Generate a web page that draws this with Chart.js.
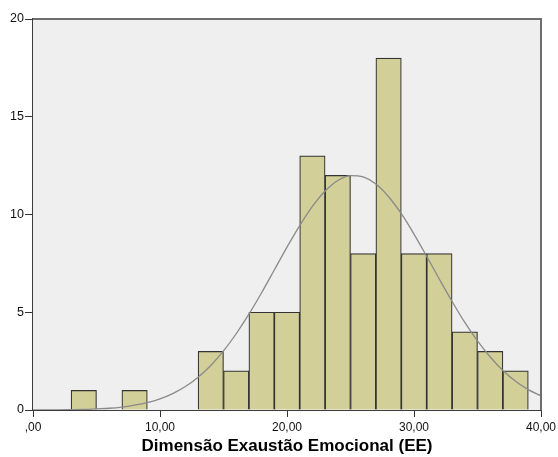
<!DOCTYPE html>
<html>
<head>
<meta charset="utf-8">
<script src="https://cdn.jsdelivr.net/npm/chart.js@4.4.1/dist/chart.umd.min.js"></script>
<style>
  html, body { margin: 0; padding: 0; background: #ffffff; }
  #wrap { width: 558px; height: 457px; position: relative; }
</style>
</head>
<body>
<div id="wrap"><canvas id="hist"></canvas></div>
<script>
// Histogram bins (lower edge, upper edge) and frequencies
const binStart = [3, 5, 7, 9, 11, 13, 15, 17, 19, 21, 23, 25, 27, 29, 31, 33, 35, 37];
const binEnd   = [5, 7, 9, 11, 13, 15, 17, 19, 21, 23, 25, 27, 29, 31, 33, 35, 37, 39];
const counts   = [1, 0, 1, 0, 0, 3, 2, 5, 5, 13, 12, 8, 18, 8, 8, 4, 3, 2];

// Normal curve overlay, sampled along the x axis
const curveX = [0, 1, 2, 3, 4, 5, 6, 7, 8, 9, 10, 11, 12, 13, 14, 15, 16, 17, 18, 19, 20,
                21, 22, 23, 24, 25, 26, 27, 28, 29, 30, 31, 32, 33, 34, 35, 36, 37, 38, 39, 40];
const curveY = [0.00, 0.01, 0.01, 0.02, 0.03, 0.06, 0.09, 0.15, 0.25, 0.38, 0.57, 0.84, 1.20,
                1.68, 2.28, 3.02, 3.90, 4.90, 6.00, 7.16, 8.33, 9.43, 10.41, 11.20, 11.74, 11.99,
                11.92, 11.56, 10.91, 10.04, 9.00, 7.86, 6.69, 5.55, 4.48, 3.53, 2.71, 2.02, 1.47,
                1.04, 0.72];

// Axis tick labels
const xTickValues = [0, 10, 20, 30, 40];
const xTickLabels = [',00', '10,00', '20,00', '30,00', '40,00'];
const yTickValues = [0, 5, 10, 15, 20];

const xTitle = 'Dimensão Exaustão Emocional (EE)';

const barData = counts.map((c, i) => ({ x: (binStart[i] + binEnd[i]) / 2, y: c }));
const lineData = curveX.map((x, i) => ({ x: x, y: curveY[i] }));

// Grey plot background and frame around the plotting area
const plotFrame = {
  id: 'plotFrame',
  beforeDatasetsDraw(chart) {
    const { ctx, chartArea: a } = chart;
    ctx.save();
    ctx.fillStyle = '#efefef';
    ctx.fillRect(a.left, a.top, a.right - a.left, a.bottom - a.top);
    ctx.restore();
  },
  afterDraw(chart) {
    const { ctx, chartArea: a } = chart;
    ctx.save();
    ctx.strokeStyle = '#6e6e6e';
    ctx.lineWidth = 2;
    ctx.beginPath();
    ctx.moveTo(a.left, a.top);
    ctx.lineTo(a.right, a.top);
    ctx.lineTo(a.right, a.bottom);
    ctx.stroke();
    ctx.restore();
  }
};

new Chart(document.getElementById('hist'), {
  data: {
    datasets: [
      {
        type: 'line',
        data: lineData,
        borderColor: '#8a8a8a',
        borderWidth: 1.3,
        pointRadius: 0,
        cubicInterpolationMode: 'monotone',
        fill: false,
        order: 0
      },
      {
        type: 'bar',
        data: barData,
        backgroundColor: '#d3cf98',
        borderColor: '#333333',
        borderWidth: 1.2,
        barPercentage: 1,
        categoryPercentage: 1,
        order: 1
      }
    ]
  },
  options: {
    responsive: true,
    maintainAspectRatio: false,
    animation: false,
    events: [],
    layout: { padding: { top: 19, right: 17, bottom: 0, left: 0 } },
    plugins: { legend: { display: false }, tooltip: { enabled: false } },
    scales: {
      x: {
        type: 'linear',
        min: 0,
        max: 40,
        offset: false,
        afterBuildTicks(scale) {
          scale.ticks = xTickValues.map(v => ({ value: v }));
        },
        afterFit(scale) {
          scale.height = 47;
          scale.paddingLeft = 0;
          scale.paddingRight = 0;
        },
        grid: {
          offset: false,
          drawOnChartArea: false,
          drawTicks: true,
          tickLength: 7,
          color: '#333333',
          lineWidth: 1
        },
        border: { display: true, color: '#3c3c3c', width: 2 },
        ticks: {
          autoSkip: false,
          maxRotation: 0,
          padding: 3,
          color: '#111111',
          font: { family: '"Liberation Sans", Arial, sans-serif', size: 12 },
          callback(value) {
            const i = xTickValues.indexOf(value);
            return i >= 0 ? xTickLabels[i] : '';
          }
        },
        title: {
          display: true,
          text: xTitle,
          color: '#000000',
          padding: { top: 0, bottom: 0 },
          font: { family: '"Liberation Sans", Arial, sans-serif', size: 17, weight: 'bold' }
        }
      },
      y: {
        type: 'linear',
        min: 0,
        max: 20,
        afterBuildTicks(scale) {
          scale.ticks = yTickValues.map(v => ({ value: v }));
        },
        afterFit(scale) { scale.width = 33; },
        grid: {
          offset: false,
          drawOnChartArea: false,
          drawTicks: true,
          tickLength: 8,
          color: '#333333',
          lineWidth: 1
        },
        border: { display: true, color: '#3c3c3c', width: 2 },
        ticks: {
          padding: 1,
          color: '#111111',
          font: { family: '"Liberation Sans", Arial, sans-serif', size: 12.5 }
        }
      }
    }
  },
  plugins: [plotFrame]
});
</script>
</body>
</html>
